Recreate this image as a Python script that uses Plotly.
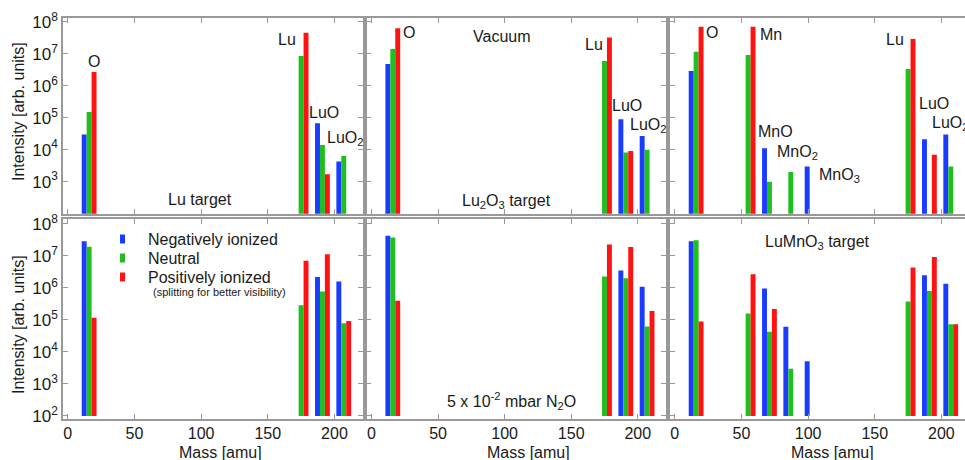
import plotly.graph_objects as go

# ---------------- data ----------------
species_lu = ["O", "Lu", "LuO", "LuO2"]
mass_lu = [16, 175, 191, 207]
species_lmo = ["O", "Mn", "MnO", "MnO2", "MnO3", "Lu", "LuO", "LuO2"]
mass_lmo = [16, 55, 71, 87, 103, 175, 191, 207]

# Vacuum (top row)
vac_lu_neg = [3.0e4, None, 6.7e4, 4.3e3]
vac_lu_neu = [1.5e5, 8.5e6, 1.4e4, 6.3e3]
vac_lu_pos = [2.7e6, 4.5e7, 1.7e3, None]

vac_lu2o3_neg = [4.8e6, None, 9.0e4, 2.7e4]
vac_lu2o3_neu = [1.4e7, 5.9e6, 8.1e3, 1.0e4]
vac_lu2o3_pos = [6.2e7, 3.2e7, 9.1e3, None]

vac_lmo_neg = [2.9e6, None, 1.1e4, None, 3.0e3, None, 2.1e4, 3.0e4]
vac_lmo_neu = [1.15e7, 9.1e6, 1.0e3, 2.0e3, None, 3.3e6, None, 3.0e3]
vac_lmo_pos = [6.9e7, 6.9e7, None, None, None, 2.9e7, 6.9e3, None]

# 5e-2 mbar N2O (bottom row)
n2o_lu_neg = [2.9e7, None, 2.2e6, 1.6e6]
n2o_lu_neu = [1.95e7, 2.9e5, 7.7e5, 7.9e4]
n2o_lu_pos = [1.17e5, 7.1e6, 1.13e7, 9.3e4]

n2o_lu2o3_neg = [4.3e7, None, 3.5e6, 1.1e6]
n2o_lu2o3_neu = [3.8e7, 2.3e6, 2.0e6, 6.3e4]
n2o_lu2o3_pos = [4.0e5, 2.3e7, 1.9e7, 1.9e5]

n2o_lmo_neg = [2.9e7, None, 9.6e5, 6.1e4, 5.1e3, None, 2.5e6, 1.35e6]
n2o_lmo_neu = [3.1e7, 1.6e5, 4.3e4, 3.0e3, None, 3.8e5, 8.0e5, 7.3e4]
n2o_lmo_pos = [8.9e4, 2.7e6, 2.2e5, None, None, 4.4e6, 9.3e6, 7.4e4]

x_ticks = [0, 50, 100, 150, 200]
y_ticks = [1e2, 1e3, 1e4, 1e5, 1e6, 1e7, 1e8]
y_ticktext = ["10<sup>2</sup>", "10<sup>3</sup>", "10<sup>4</sup>", "10<sup>5</sup>",
              "10<sup>6</sup>", "10<sup>7</sup>", "10<sup>8</sup>"]
series_names = ["Negatively ionized", "Neutral", "Positively ionized"]

# ---------------- style ----------------
COLORS = ["#1a3cff", "#1fbf1f", "#ff1212"]
OFFSETS = [-3.7, 0.0, 3.7]
BAR_W = 3.7
BASE = 100.0
FONT = "Liberation Sans, Arial, sans-serif"
FRAME = "#999999"

W, H = 965, 460
col_dom = [[63 / W, 362.7 / W], [366.7 / W, 666 / W], [670 / W, 1.0]]
row_dom = [[1 - 214 / H, 1 - 18.3 / H], [1 - 418.5 / H, 1 - 219 / H]]
x_ranges = [[-3.6, 221.2], [-3.6, 221.2], [-3.6, 217.7]]
y_ranges = [[1.99, 8.106], [1.92, 8.156]]

panels = [
    # row, col, masses, neg, neu, pos
    (0, 0, mass_lu, vac_lu_neg, vac_lu_neu, vac_lu_pos),
    (0, 1, mass_lu, vac_lu2o3_neg, vac_lu2o3_neu, vac_lu2o3_pos),
    (0, 2, mass_lmo, vac_lmo_neg, vac_lmo_neu, vac_lmo_pos),
    (1, 0, mass_lu, n2o_lu_neg, n2o_lu_neu, n2o_lu_pos),
    (1, 1, mass_lu, n2o_lu2o3_neg, n2o_lu2o3_neu, n2o_lu2o3_pos),
    (1, 2, mass_lmo, n2o_lmo_neg, n2o_lmo_neu, n2o_lmo_pos),
]

fig = go.Figure()
layout = {}
for i, (r, c, masses, neg, neu, pos) in enumerate(panels):
    idx = i + 1
    xa = "x" if idx == 1 else f"x{idx}"
    ya = "y" if idx == 1 else f"y{idx}"
    for k, vals in enumerate([neg, neu, pos]):
        xs, ys = [], []
        for m, v in zip(masses, vals):
            if v is not None:
                xs.append(m + OFFSETS[k])
                ys.append(v - BASE)
        fig.add_trace(go.Bar(
            x=xs, y=ys, base=BASE, width=BAR_W,
            marker=dict(color=COLORS[k], line=dict(width=0)),
            name=series_names[k], showlegend=False,
            xaxis=xa, yaxis=ya, hoverinfo="skip",
        ))
    xkey = "xaxis" if idx == 1 else f"xaxis{idx}"
    ykey = "yaxis" if idx == 1 else f"yaxis{idx}"
    layout[xkey] = dict(
        domain=col_dom[c], anchor=ya, range=x_ranges[c], automargin=False,
        tickvals=x_ticks, ticks="inside", ticklen=5, tickcolor=FRAME,
        showline=True, linecolor=FRAME, linewidth=1.5, mirror="ticks",
        showgrid=False, zeroline=False, showticklabels=(r == 1),
        tickfont=dict(family=FONT, size=16, color="#1a1a1a"),
    )
    ytext = list(y_ticktext)
    if r == 0:
        ytext[0] = ""
    layout[ykey] = dict(
        domain=row_dom[r], anchor=xa, type="log", range=y_ranges[r], automargin=False,
        tickvals=y_ticks, ticktext=ytext, ticks="inside", ticklen=5,
        tickcolor=FRAME, showline=True, linecolor=FRAME, linewidth=1.5,
        mirror=("ticks" if c < 2 else False), showgrid=False, zeroline=False,
        showticklabels=(c == 0),
        tickfont=dict(family=FONT, size=17, color="#1a1a1a"),
    )

fig.update_layout(**layout)

def ann(text, x, y, size=16, xanchor="center", yanchor="middle", angle=0):
    return dict(text=text, x=x / W, y=1 - y / H, xref="paper", yref="paper",
                showarrow=False, xanchor=xanchor, yanchor=yanchor, textangle=angle,
                font=dict(family=FONT, size=size, color="#1a1a1a"))

annotations = [
    # top-left
    ann("O", 93.5, 61), ann("Lu", 287, 40), ann("LuO", 324, 112),
    ann("LuO<sub>2</sub>", 325, 138, xanchor="left"),
    ann("Lu target", 200, 200),
    # top-middle
    ann("O", 409, 32), ann("Vacuum", 502, 36), ann("Lu", 594, 44),
    ann("LuO", 627, 105), ann("LuO<sub>2</sub>", 628, 126, xanchor="left"),
    ann("Lu<sub>2</sub>O<sub>3</sub> target", 506, 201),
    # top-right
    ann("O", 712, 32), ann("Mn", 771, 34), ann("MnO", 775, 131),
    ann("MnO<sub>2</sub>", 775, 153, xanchor="left"),
    ann("MnO<sub>3</sub>", 817, 175, xanchor="left"),
    ann("Lu", 895, 40), ann("LuO", 934, 103),
    ann("LuO<sub>2</sub>", 930, 123, xanchor="left"),
    # bottom
    ann("(splitting for better visibility)", 151, 292, size=11, xanchor="left"),
    ann("5 x 10<sup>-2</sup> mbar N<sub>2</sub>O", 511, 401),
    ann("LuMnO<sub>3</sub> target", 817, 243),
    # axis titles
    ann("Mass [amu]", 220, 452), ann("Mass [amu]", 528, 452), ann("Mass [amu]", 832, 452),
    ann("Intensity [arb. units]", 18, 112, angle=-90),
    ann("Intensity [arb. units]", 18, 325, angle=-90),
]

# hand-drawn legend (thin colour markers + labels)
legend_y = [239, 258, 277]
shapes = []
for k, name in enumerate(series_names):
    annotations.append(ann(name, 146, legend_y[k], xanchor="left"))
    shapes.append(dict(type="rect", xref="paper", yref="paper",
                       x0=120 / W, x1=125 / W,
                       y0=1 - (legend_y[k] + 4.5) / H, y1=1 - (legend_y[k] - 4.5) / H,
                       fillcolor=COLORS[k], line=dict(width=0)))

fig.update_layout(
    width=W, height=H,
    margin=dict(l=0, r=0, t=0, b=0, autoexpand=False),
    paper_bgcolor="white", plot_bgcolor="white",
    barmode="overlay",
    annotations=annotations,
    shapes=shapes,
    showlegend=False,
    font=dict(family=FONT, color="#1a1a1a"),
)

fig.write_html(
    "out.html",
    config={"displayModeBar": False},
    post_script="document.body.style.margin='0';document.body.style.padding='0';"
                "document.body.style.overflow='hidden';",
)
